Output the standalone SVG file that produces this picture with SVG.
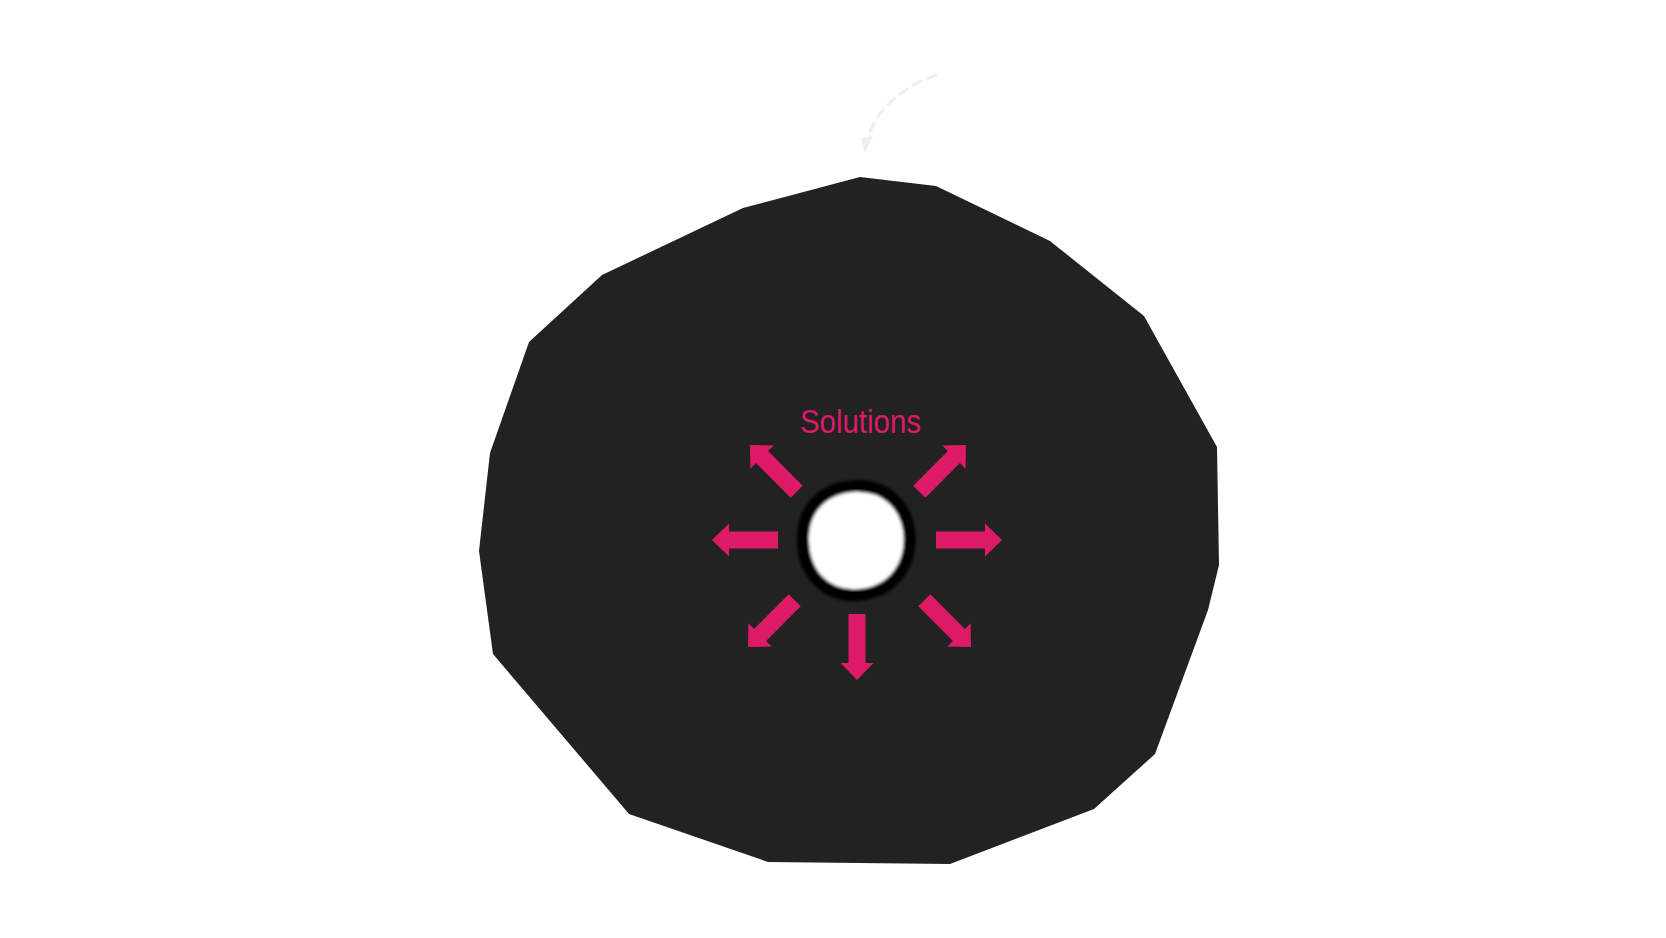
<svg xmlns="http://www.w3.org/2000/svg" width="1666" height="938" viewBox="0 0 1666 938">
<style>
.arrow{fill:#dc1a68}
.lbl{font-family:"Liberation Sans","DejaVu Sans",sans-serif;font-size:34px;fill:#dc1a68}
</style>
<defs>
<path id="arr" d="M0,-8.5 H49 V-16.5 L66,0 L49,16.5 V8.5 H0 Z"/>
<filter id="soft" x="-20%" y="-20%" width="140%" height="140%"><feGaussianBlur stdDeviation="1.5"/></filter>
</defs>
<rect width="1666" height="938" fill="#ffffff"/>
<g id="disc">
<polygon points="860,177 936,186 1050,241 1144,316 1217,447 1219,565 1208,610 1155,754 1094,809 950,864 768,862 629,814 493,654 479,551 490,453 529,342 602,275 743,208" fill="#222222"/>
</g>
<g id="hole">
<g filter="url(#soft)">
<path d="M856,486 C886,485 905,505 909,530 C913,562 896,592 858,595 C826,597 804,575 803,541 C802,508 824,487 856,486 Z" fill="#ffffff" stroke="#000000" stroke-width="12"/>
</g>
</g>
<g id="label">
<text class="lbl" x="800" y="433" textLength="121" lengthAdjust="spacingAndGlyphs">Solutions</text>
</g>
<g id="connectors">
<use href="#arr" class="arrow" transform="translate(778,540) rotate(180)"/>
<use href="#arr" class="arrow" transform="translate(936,540)"/>
<use href="#arr" class="arrow" transform="translate(857,614) rotate(90)"/>
<use href="#arr" class="arrow" transform="translate(796.7,491.7) rotate(-135)"/>
<use href="#arr" class="arrow" transform="translate(919.3,491.7) rotate(-45)"/>
<use href="#arr" class="arrow" transform="translate(794.7,600.3) rotate(135)"/>
<use href="#arr" class="arrow" transform="translate(924.3,600.3) rotate(45)"/>
<path d="M936,75 Q884,94 868,136" fill="none" stroke="#eeeeee" stroke-width="3" stroke-dasharray="9 7" stroke-linecap="round"/>
<polygon points="861,138 873,136 865,153" fill="#eeeeee"/>
</g>
</svg>
